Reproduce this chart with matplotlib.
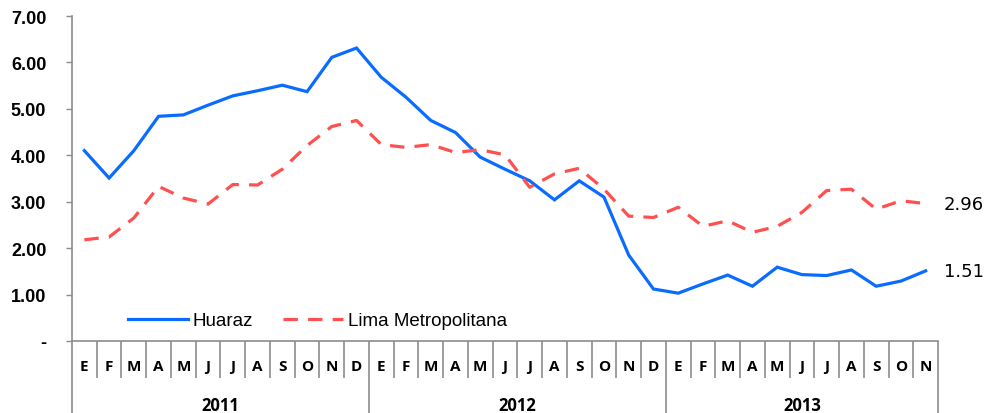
import matplotlib
matplotlib.use("Agg")
import matplotlib.pyplot as plt
import numpy as np

# datos mensuales ene-2011 a nov-2013
meses = ["E", "F", "M", "A", "M", "J", "J", "A", "S", "O", "N", "D"] * 2 + \
        ["E", "F", "M", "A", "M", "J", "J", "A", "S", "O", "N"]
anios = ["2011", "2012", "2013"]
huaraz = [4.10, 3.51, 4.10, 4.84, 4.87, 5.08, 5.28, 5.39, 5.51, 5.37, 6.11, 6.31,
          5.68, 5.25, 4.75, 4.49, 3.96, 3.70, 3.45, 3.04, 3.45, 3.10, 1.85, 1.12,
          1.03, 1.23, 1.42, 1.18, 1.59, 1.43, 1.41, 1.53, 1.18, 1.29, 1.51]
lima = [2.18, 2.24, 2.65, 3.33, 3.08, 2.95, 3.37, 3.36, 3.70, 4.21, 4.62, 4.75,
        4.23, 4.17, 4.23, 4.06, 4.12, 4.01, 3.31, 3.60, 3.72, 3.27, 2.69, 2.66,
        2.88, 2.47, 2.59, 2.34, 2.47, 2.77, 3.24, 3.27, 2.84, 3.02, 2.96]
etiq_h = "1.51"
etiq_l = "2.96"

azul = "#0A6CFF"
rojo = "#FF5050"
gris = "#8c8c8c"

fig = plt.figure(figsize=(9.85, 4.14), dpi=100)
ax = fig.add_axes([72 / 985, 72 / 414, (938 - 72) / 985, 325 / 414])

n = len(meses)
x = np.arange(n)
ax.plot(x, huaraz, color=azul, lw=2.3, label="Huaraz", solid_joinstyle="miter")
ax.plot(x, lima, color=rojo, lw=2.3, dashes=(4.5, 3.2), label="Lima Metropolitana")

ax.set_xlim(-0.5, n - 0.5)
ax.set_ylim(0, 7)
ax.set_yticks(np.arange(0, 8))
ax.set_yticklabels(["-"] + ["%.2f" % v for v in range(1, 8)],
                   fontfamily="Liberation Sans", fontweight="bold", fontsize=13)
ax.tick_params(axis="y", direction="out", length=4.5, color=gris, width=1, pad=14)
ax.set_xticks([])

for s in ["top", "right"]:
    ax.spines[s].set_visible(False)
ax.spines["left"].set_color(gris)
ax.spines["bottom"].set_color(gris)
ax.spines["left"].set_linewidth(1.2)
ax.spines["bottom"].set_linewidth(1.2)

# tabla de categorias bajo el eje
tr = ax.get_xaxis_transform()
for i in range(n + 1):
    xb = i - 0.5
    bajo = -0.222 if i % 12 == 0 or i == n else -0.114
    ax.plot([xb, xb], [0, bajo], transform=tr, color=gris, lw=1.2,
            clip_on=False, solid_capstyle="butt")
for i, m in enumerate(meses):
    ax.text(i, -0.077, m, transform=tr, ha="center", va="center",
            fontfamily="Open Sans", fontweight="bold", fontsize=11)
for k, a in enumerate(anios):
    ini = k * 12
    fin = min(ini + 12, n)
    ax.text((ini + fin - 1) / 2, -0.197, a, transform=tr, ha="center", va="center",
            fontfamily="Open Sans", fontweight="bold", fontsize=12)

# valores finales
ax.annotate(etiq_l, (n - 1, lima[-1]), xytext=(13, 0), textcoords="offset points",
            va="center", ha="left", fontsize=13, fontfamily="DejaVu Sans")
ax.annotate(etiq_h, (n - 1, huaraz[-1]), xytext=(13, 0), textcoords="offset points",
            va="center", ha="left", fontsize=13, fontfamily="DejaVu Sans")

ax.legend(loc="lower left", bbox_to_anchor=(0.045, -0.016), ncol=2, frameon=False,
          handlelength=3.2, handletextpad=0.25, columnspacing=1.6,
          prop={"family": "Liberation Sans", "size": 13.5})

fig.savefig("out.png", dpi=100)
